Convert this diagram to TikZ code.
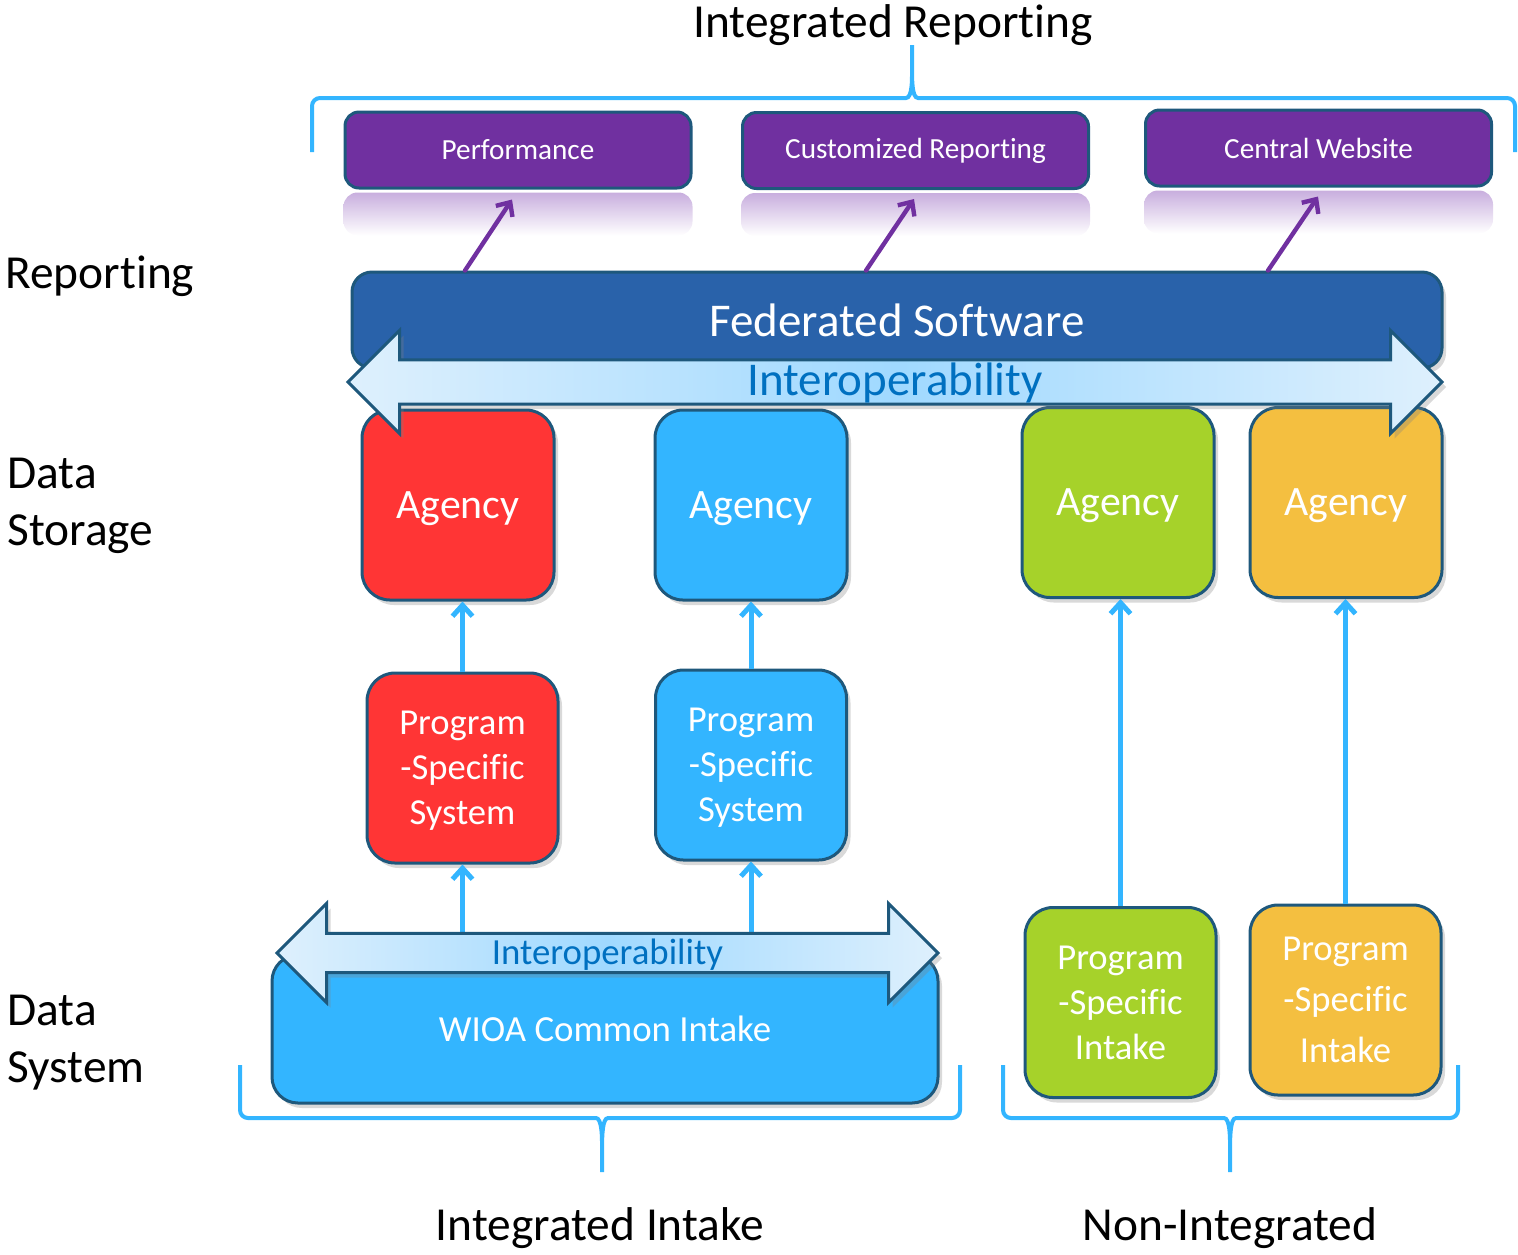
\documentclass[tikz,border=0pt]{standalone}
\usepackage{fontspec}
\setmainfont{Carlito}[Ligatures=NoCommon]
\usepackage{tikz}
\usetikzlibrary{positioning}
\usetikzlibrary{arrows.meta}
\usetikzlibrary{shapes,shadows,calc}
\definecolor{rppurple}{RGB}{112,48,160}
\definecolor{rpreflect}{RGB}{200,174,222}
\definecolor{fedblue}{RGB}{41,98,170}
\definecolor{boxline}{RGB}{30,88,124}
\definecolor{agred}{RGB}{255,53,53}
\definecolor{agblue}{RGB}{51,181,255}
\definecolor{aggreen}{RGB}{166,210,42}
\definecolor{agorange}{RGB}{244,191,64}
\definecolor{ioplight}{RGB}{222,240,253}
\definecolor{iopmid}{RGB}{160,217,255}
\definecolor{ioptext}{RGB}{0,112,192}

\begin{document}
\begin{tikzpicture}[x=0.5pt,y=-0.5pt,
  every node/.style={inner sep=0pt},
  shadowed/.style={drop shadow={shadow xshift=2pt,shadow yshift=-2.5pt,opacity=0.3}},
  boxnode/.style={draw=boxline,line width=1.5pt,text=white},
  rpnode/.style={boxnode,fill=rppurple,rounded corners=7pt,minimum width=173pt,minimum height=38pt,font=\fontsize{14.6}{17}\selectfont},
  agnode/.style={boxnode,shadowed,rounded corners=14pt,minimum width=96pt,minimum height=95pt,text depth=0pt,font=\fontsize{20.9}{25}\selectfont},
  psnode/.style={boxnode,shadowed,rounded corners=14pt,minimum width=95.5pt,minimum height=95pt,align=center,text depth=0pt,font=\fontsize{18.3}{22.5}\selectfont},
  iopnode/.style={double arrow,draw=boxline,line width=1.5pt,double arrow tip angle=90,shadowed,
    left color=ioplight,right color=ioplight,middle color=iopmid,text=ioptext},
  labelnode/.style={font=\fontsize{23.7}{28.5}\selectfont,align=left},
  brace/.style={draw=agblue,line width=2pt,rounded corners=4pt},
  purplearrow/.style={draw=rppurple,line width=2.2pt,line cap=round,-{Straight Barb[length=5.5pt,width=10pt]}},
  bluearrow/.style={draw=agblue,line width=2.5pt,-{Straight Barb[length=5.5pt,width=10pt]}}]

\useasboundingbox (0,0) rectangle (1518,1254);

% reporting outputs
\node[rpnode] (perf) at (518,150) {Performance};
\node[rpnode] (cust) at (915.5,150.5) {Customized Reporting};
\node[rpnode] (web) at (1318.5,148) {Central Website};
\foreach \n in {perf,cust,web}
  \shade[top color=rpreflect,bottom color=white,rounded corners=7pt]
    ([yshift=-1.5pt]\n.south west) rectangle ([yshift=-23pt]\n.south east);

\node[boxnode,shadowed,fill=fedblue,rounded corners=10pt,minimum width=545pt,minimum height=48pt,
  font=\fontsize{23.5}{28}\selectfont] (fed) at (897,320) {Federated Software};

\draw[purplearrow] ($(perf.south |- fed.north)+(-53,0)$) -- ($(perf.south)+(-6,10)$);
\draw[purplearrow] ($(cust.south |- fed.north)+(-49.5,0)$) -- ($(cust.south)+(-1.5,9)$);
\draw[purplearrow] ($(web.south |- fed.north)+(-50.5,0)$) -- ($(web.south)+(-0.5,9)$);

% data storage
\foreach \n/\x/\y/\c in {ag1/458/505/agred,ag2/751/505/agblue,ag3/1118/502.5/aggreen,ag4/1346/502.5/agorange}
  \node[agnode,fill=\c] (\n) at (\x,\y) {Agency};

\node[iopnode,minimum height=547pt,minimum width=51.5pt,double arrow head extend=13.75pt,text depth=3pt,
  font=\fontsize{23.5}{28}\selectfont] (iop1) at (895,382) {Interoperability};

% data systems
\node[psnode,fill=agred] (ps1) at (462.5,768) {Program\\-Specific\\System};
\node[psnode,fill=agblue] (ps2) at (751,765) {Program\\-Specific\\System};

\node[boxnode,shadowed,fill=agblue,rounded corners=13pt,minimum width=333pt,minimum height=74pt,
  font=\fontsize{18.4}{22}\selectfont] (wioa) at (605,1029) {WIOA Common Intake};

\node[psnode,fill=aggreen,text depth=-3pt] (pi1) at (1120.5,1002.5) {Program\\-Specific\\Intake};
\node[psnode,fill=agorange,text depth=-2pt,font=\fontsize{18.3}{25.5}\selectfont] (pi2) at (1345.5,1000) {Program\\-Specific\\Intake};

\draw[bluearrow] (ps1.north) -- (ps1.north |- ag1.south);
\draw[bluearrow] (ps2.north) -- (ps2.north |- ag2.south);
\draw[bluearrow] (ps1.south |- wioa.north) -- (ps1.south);
\draw[bluearrow] (ps2.south |- wioa.north) -- (ps2.south);
\draw[bluearrow] (pi1.north) -- (pi1.north |- ag3.south);
\draw[bluearrow] (pi2.north) -- (pi2.north |- ag4.south);

\node[iopnode,minimum height=330.5pt,minimum width=49.5pt,double arrow head extend=12pt,text depth=1.6pt,
  font=\fontsize{18.4}{22}\selectfont] (iop2) at (607.5,953) {Interoperability};

% braces
\draw[brace] (312,152) |- (898,98) to[out=0,in=-90] (912,64) -- (912,45)
  (912,64) to[out=-90,in=180] (926,98) -| (1515,152);
\draw[brace] (240,1065) |- (588,1118) to[out=0,in=90] (602,1150) -- (602,1172)
  (602,1150) to[out=90,in=180] (616,1118) -| (960,1065);
\draw[brace] (1003,1065) |- (1216,1118) to[out=0,in=90] (1230,1150) -- (1230,1172)
  (1230,1150) to[out=90,in=180] (1244,1118) -| (1458,1065);

% labels
\node[labelnode] (ttl) at (893,25) {Integrated Reporting};
\node[labelnode,anchor=west] (lrep) at (5,276) {Reporting};
\node[labelnode,anchor=west] (lstore) at (7,505.5) {Data\\Storage};
\node[labelnode,anchor=west] (lsys) at (7,1042.5) {Data\\System};
\node[labelnode] (lint) at (600,1228) {Integrated Intake};
\node[labelnode] (lnon) at (1230,1228) {Non-Integrated};
\end{tikzpicture}
\end{document}
